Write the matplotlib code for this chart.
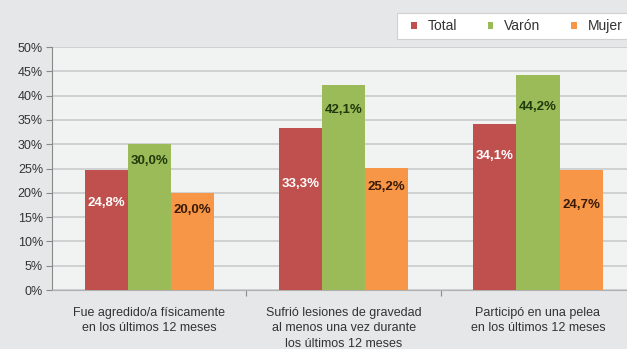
import matplotlib.pyplot as plt
from matplotlib import font_manager
from matplotlib.patches import Rectangle
import numpy as np

# usar la Liberation Sans normal (no la Narrow)
for f in font_manager.findSystemFonts():
    if f.endswith("LiberationSans-Regular.ttf") or f.endswith("LiberationSans-Bold.ttf"):
        font_manager.fontManager.addfont(f)
plt.rcParams['font.family'] = ['Liberation Sans', 'DejaVu Sans']

categorias = ["Fue agredido/a físicamente\nen los últimos 12 meses",
              "Sufrió lesiones de gravedad\nal menos una vez durante\nlos últimos 12 meses",
              "Participó en una pelea\nen los últimos 12 meses"]
total = [24.8, 33.3, 34.1]
varon = [30.0, 42.1, 44.2]
mujer = [20.0, 25.2, 24.7]

series = [("Total", total, "#c0504d", "white"),
          ("Varón", varon, "#9bbb59", "#1f3a0c"),
          ("Mujer", mujer, "#f79646", "#3a1a05")]
# distancia (en puntos) de la etiqueta bajo el extremo de cada barra
offsets = [[24, 40, 23],
           [12, 18, 23],
           [12, 14, 25]]

W, H = 627, 349
fig = plt.figure(figsize=(W / 100, H / 100), dpi=100, facecolor="#e6e7e8")
ax = fig.add_axes([0.083, 0.169, 0.93, 0.696])
ax.set_facecolor("#f1f2f2")

x = np.arange(len(categorias))
w = 0.222
for i, (nombre, vals, color, tcolor) in enumerate(series):
    pos = x + (i - 1) * w
    ax.bar(pos, vals, w, color=color, label=nombre, zorder=3)
    for j, v in enumerate(vals):
        ax.annotate(f"{v:.1f}%".replace(".", ","), (pos[j], v),
                    xytext=(0, -offsets[i][j]), textcoords="offset points",
                    ha="center", va="center", fontsize=9.5, fontweight="bold",
                    color=tcolor, zorder=4)

ax.set_ylim(0, 50)
ax.set_xlim(-0.5, 2.5)
ax.set_yticks(np.arange(0, 51, 5))
ax.set_yticklabels([f"{t}%" for t in range(0, 51, 5)], fontsize=9, color="#333333")
ax.yaxis.grid(True, color="#cdcecf", lw=1.3, zorder=0)
ax.set_xticks([0.5, 1.5])
ax.set_xticklabels([])
ax.tick_params(axis="y", length=4.5, color="#8a8a8a", pad=2)
ax.tick_params(axis="x", length=4, color="#8a8a8a", direction="out")
for s in ["top", "right"]:
    ax.spines[s].set_visible(False)
ax.spines["left"].set_color("#8a8a8a")
ax.spines["bottom"].set_color("#b0b0b0")

for j, c in enumerate(categorias):
    ax.text(x[j], -3.5, c, ha="center", va="top", fontsize=9,
            color="#333333", linespacing=1.38)

# recuadro blanco de la leyenda
fig.patches.append(Rectangle((397 / W, 1 - 39 / H), 0.4, 26.3 / H,
                             transform=fig.transFigure, facecolor="white",
                             edgecolor="#d0d0d0", lw=0.8, zorder=0))
leg = fig.legend(loc="center left", bbox_to_anchor=(411 / W, 1 - 26 / H), ncol=3,
                 fontsize=10, frameon=False, handlelength=0.4,
                 handleheight=0.4, columnspacing=2.2, handletextpad=0.8,
                 borderpad=0, borderaxespad=0)
for t in leg.get_texts():
    t.set_color("#333333")

fig.savefig("out.png", dpi=100, facecolor=fig.get_facecolor())
